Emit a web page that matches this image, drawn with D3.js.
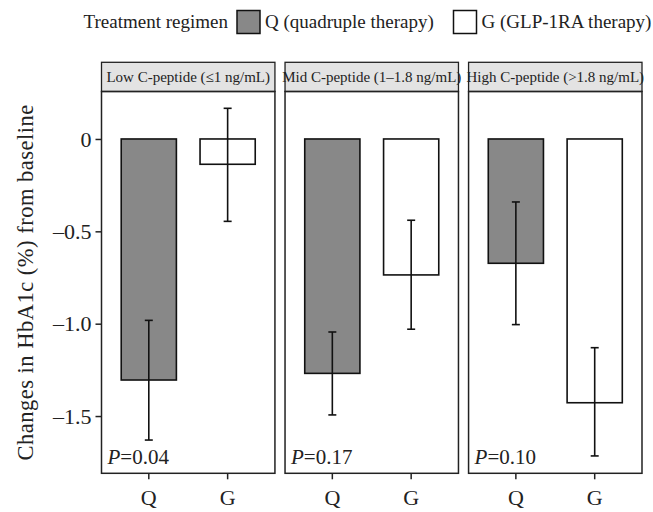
<!DOCTYPE html>
<html>
<head>
<meta charset="utf-8">
<script src="https://cdn.jsdelivr.net/npm/d3@7"></script>
<style>
  body { margin: 0; background: #fff; }
  text { font-family: "Liberation Serif", "DejaVu Serif", serif; fill: #222; }
</style>
</head>
<body>
<div id="chart"></div>
<script>
var panels = ["Low C-peptide (\u22641 ng/mL)", "Mid C-peptide (1\u20131.8 ng/mL)", "High C-peptide (>1.8 ng/mL)"];
var groups = ["Q", "G"];
var groupNames = ["Q (quadruple therapy)", "G (GLP-1RA therapy)"];
var groupFill = ["#888888", "#ffffff"];
var qMean = [-1.305, -1.269, -0.673];
var qLow  = [-1.630, -1.494, -1.005];
var qHigh = [-0.982, -1.045, -0.341];
var gMean = [-0.137, -0.736, -1.428];
var gLow  = [-0.446, -1.030, -1.716];
var gHigh = [0.166, -0.440, -1.130];
var pValues = ["0.04", "0.17", "0.10"];
var yTicks = [0, -0.5, -1.0, -1.5];

var svg = d3.select("#chart")
            .append("svg")
            .attr("width", 653)
            .attr("height", 512);

var plotTop = 91.5, plotBottom = 473.3, stripTop = 62.3;

var panelX = d3.scaleBand()
               .domain(panels)
               .range([101.5, 642])
               .paddingInner(0.055);

var x = d3.scaleBand()
          .domain(groups)
          .range([0, panelX.bandwidth()])
          .paddingInner(0.3)
          .paddingOuter(0.25);

var y = d3.scaleLinear()
          .domain([-1.81, 0.257])
          .range([plotBottom, plotTop]);

var fmt = function(d) { return d === 0 ? "0" : d3.format(".1f")(Math.abs(d)).replace(/^/, "\u2013"); };

// rows of data per panel
var rows = panels.map(function(p, i) {
  return [
    {g: "Q", mean: qMean[i], low: qLow[i], high: qHigh[i], fill: groupFill[0]},
    {g: "G", mean: gMean[i], low: gLow[i], high: gHigh[i], fill: groupFill[1]}
  ];
});

var panel = svg.selectAll("g.panel")
  .data(panels)
  .enter()
  .append("g")
  .attr("class", "panel")
  .attr("transform", function(d) { return "translate(" + panelX(d) + ",0)"; });

// strip
panel.append("rect")
  .attr("x", 0)
  .attr("y", stripTop)
  .attr("width", panelX.bandwidth())
  .attr("height", plotTop - stripTop)
  .style("fill", "#e3e3e3")
  .style("stroke", "#222")
  .style("stroke-width", "1.3px");

panel.append("text")
  .attr("x", panelX.bandwidth() / 2)
  .attr("y", (stripTop + plotTop) / 2 + 5)
  .attr("text-anchor", "middle")
  .style("font-size", "15px")
  .text(function(d) { return d; });

// bars
panel.each(function(d, i) {
  var g = d3.select(this);
  g.selectAll("rect.bar")
    .data(rows[i])
    .enter()
    .append("rect")
    .attr("class", "bar")
    .attr("x", function(r) { return x(r.g); })
    .attr("y", function(r) { return y(Math.max(0, r.mean)); })
    .attr("width", x.bandwidth())
    .attr("height", function(r) { return Math.abs(y(r.mean) - y(0)); })
    .style("fill", function(r) { return r.fill; })
    .style("stroke", "#111")
    .style("stroke-width", "1.6px");

  var eb = g.selectAll("g.err")
    .data(rows[i])
    .enter()
    .append("g")
    .attr("class", "err")
    .attr("transform", function(r) { return "translate(" + (x(r.g) + x.bandwidth() / 2) + ",0)"; })
    .style("stroke", "#111")
    .style("stroke-width", "1.6px");
  eb.append("line")
    .attr("y1", function(r) { return y(r.low); })
    .attr("y2", function(r) { return y(r.high); });
  eb.append("line")
    .attr("x1", -4).attr("x2", 4)
    .attr("y1", function(r) { return y(r.low); })
    .attr("y2", function(r) { return y(r.low); });
  eb.append("line")
    .attr("x1", -4).attr("x2", 4)
    .attr("y1", function(r) { return y(r.high); })
    .attr("y2", function(r) { return y(r.high); });

  var pt = g.append("text")
    .attr("x", 6)
    .attr("y", 463.5)
    .style("font-size", "21px");
  pt.append("tspan").style("font-style", "italic").text("P");
  pt.append("tspan").text("=" + pValues[i]);
});

// panel border
panel.append("rect")
  .attr("x", 0)
  .attr("y", plotTop)
  .attr("width", panelX.bandwidth())
  .attr("height", plotBottom - plotTop)
  .style("fill", "none")
  .style("stroke", "#222")
  .style("stroke-width", "1.5px");

// x axis per panel
panel.append("g")
  .attr("transform", "translate(0," + plotBottom + ")")
  .call(d3.axisBottom(x).tickSize(6).tickPadding(6))
  .call(function(a) {
    a.select(".domain").remove();
    a.selectAll("line").style("stroke", "#222").style("stroke-width", "1.5px");
    a.selectAll("text").style("font-size", "22px").attr("dy", "0.9em").style("fill", "#222")
     .style("font-family", "Liberation Serif, serif");
  });

// y axis
svg.append("g")
  .attr("transform", "translate(101.5,0)")
  .call(d3.axisLeft(y).tickValues(yTicks).tickFormat(fmt).tickSize(6).tickPadding(4))
  .call(function(a) {
    a.select(".domain").remove();
    a.selectAll("line").style("stroke", "#222").style("stroke-width", "1.5px");
    a.selectAll("text").style("font-size", "22px").style("fill", "#222")
     .style("font-family", "Liberation Serif, serif");
  });

svg.append("text")
  .attr("transform", "translate(33," + (plotTop + plotBottom) / 2 + ") rotate(-90)")
  .attr("text-anchor", "middle")
  .style("font-size", "22.5px")
  .style("letter-spacing", "0.5px")
  .text("Changes in HbA1c (%) from baseline");

// legend
svg.append("text")
  .attr("x", 228)
  .attr("y", 28)
  .attr("text-anchor", "end")
  .style("font-size", "19px")
  .text("Treatment regimen");

var legX = [237, 453.5];
var leg = svg.selectAll("g.leg")
  .data(groupNames)
  .enter()
  .append("g")
  .attr("class", "leg")
  .attr("transform", function(d, i) { return "translate(" + legX[i] + ",10.5)"; });
leg.append("rect")
  .attr("width", 23)
  .attr("height", 23)
  .style("fill", function(d, i) { return groupFill[i]; })
  .style("stroke", "#111")
  .style("stroke-width", "1.5px");
leg.append("text")
  .attr("x", 28)
  .attr("y", 17.5)
  .style("font-size", "19px")
  .text(function(d) { return d; });
</script>
</body>
</html>
